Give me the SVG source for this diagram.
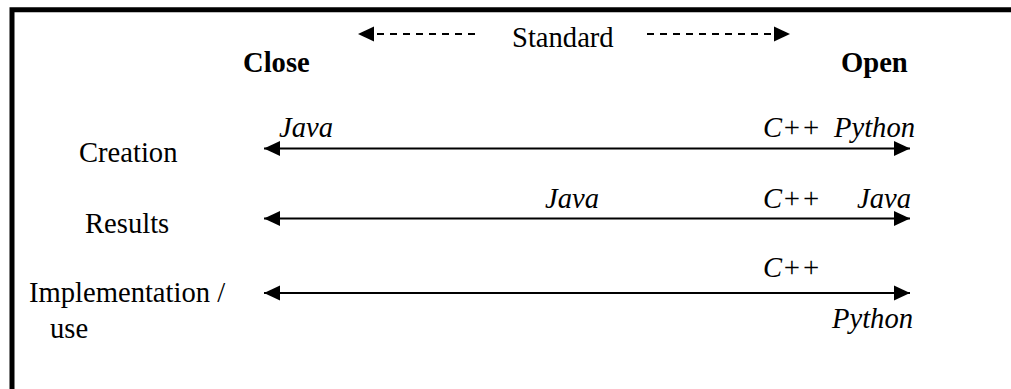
<svg xmlns="http://www.w3.org/2000/svg" width="1011" height="389" viewBox="0 0 1011 389" font-family="Liberation Serif, Times New Roman, serif">
<style>
text{font-size:28.6px;fill:#000}
.b{font-weight:bold}
.i{font-style:italic}
.ln{stroke:#000;stroke-width:2;fill:none}
.dash{stroke:#000;stroke-width:2;fill:none;stroke-dasharray:7 6}
</style>
<defs>
<marker id="ah" markerUnits="userSpaceOnUse" markerWidth="17" markerHeight="16" refX="16" refY="8" orient="auto-start-reverse">
<path d="M0,0.5 L16,8 L0,15.5 Z" fill="#000"/>
</marker>
</defs>
<rect width="1011" height="389" fill="#fff"/>
<path d="M12,400 V9.7 H1020" stroke="#000" stroke-width="5" fill="none"/>
<g id="header">
<text class="b" x="243" y="72">Close</text>
<text class="b" x="841" y="72">Open</text>
<text x="512" y="47">Standard</text>
</g>
<g id="connectors">
<path class="dash" d="M475,34 H358" marker-end="url(#ah)"/>
<path class="dash" d="M647,34 H790" marker-end="url(#ah)"/>
<path class="ln" d="M264,148.5 H910" marker-start="url(#ah)" marker-end="url(#ah)"/>
<path class="ln" d="M264,218.5 H910" marker-start="url(#ah)" marker-end="url(#ah)"/>
<path class="ln" d="M264,293 H910" marker-start="url(#ah)" marker-end="url(#ah)"/>
</g>
<g id="row-creation">
<text x="79" y="162">Creation</text>
<text class="i" x="279" y="137">Java</text>
<text class="i" x="763" y="137">C++</text>
<text class="i" x="834" y="137">Python</text>
</g>
<g id="row-results">
<text x="85" y="233">Results</text>
<text class="i" x="545" y="208">Java</text>
<text class="i" x="763" y="208">C++</text>
<text class="i" x="857" y="208">Java</text>
</g>
<g id="row-implementation">
<text x="29" y="302">Implementation /</text>
<text x="50" y="338">use</text>
<text class="i" x="763" y="277">C++</text>
<text class="i" x="832" y="328">Python</text>
</g>
</svg>
